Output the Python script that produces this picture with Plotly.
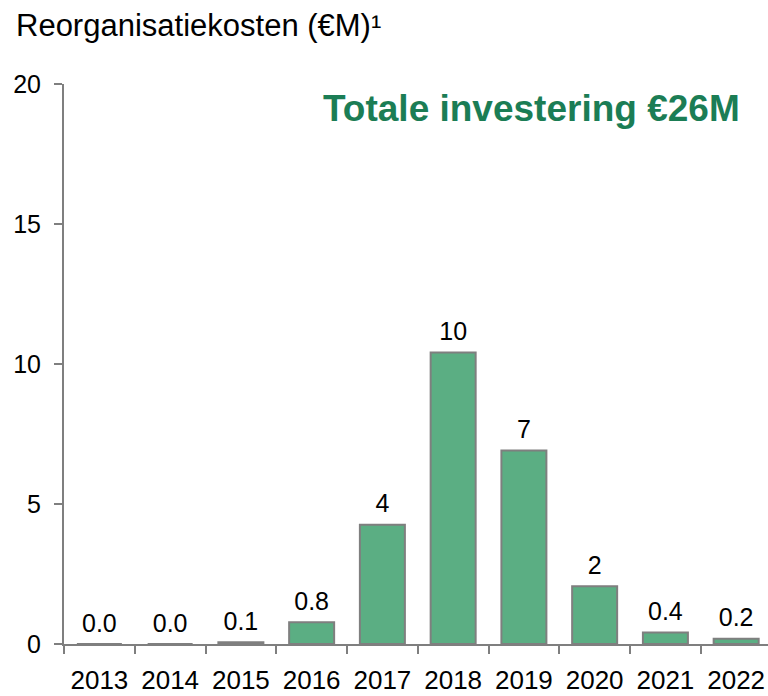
import plotly.graph_objects as go

# Reorganisation costs per year (EUR million)
years = ["2013", "2014", "2015", "2016", "2017", "2018", "2019", "2020", "2021", "2022"]
costs = [0.0, 0.0, 0.06, 0.78, 4.26, 10.41, 6.91, 2.06, 0.41, 0.19]
y_ticks = [0, 5, 10, 15, 20]

title_text = "Reorganisatiekosten (€M)¹"
total_text = "<b>Totale investering €26M</b>"

FONT = "Liberation Sans, Arial, sans-serif"
GRAY = "#7f7f7f"
BAR_GREEN = "#5bae83"
TEXT_GREEN = "#1b7d55"

W, H = 768, 696
L, R, T, B = 64, 0, 84, 52
PW, PH = W - L - R, H - T - B


def px_x(px):
    return (px - L) / PW


def px_y(py):
    return (H - B - py) / PH


def fmt(v):
    return f"{v:.1f}" if v < 1 else f"{v:.0f}"


fig = go.Figure()

fig.add_trace(
    go.Bar(
        x=years,
        y=costs,
        marker=dict(color=BAR_GREEN, line=dict(color=GRAY, width=2)),
        hoverinfo="skip",
    )
)

# value labels sitting just above each bar
fig.add_trace(
    go.Scatter(
        x=years,
        y=costs,
        mode="markers+text",
        text=[fmt(v) for v in costs],
        textposition="top center",
        marker=dict(size=8, opacity=0),
        textfont=dict(family=FONT, size=25, color="#000000"),
        cliponaxis=False,
        hoverinfo="skip",
    )
)

fig.add_annotation(
    x=px_x(14), y=px_y(26), xref="paper", yref="paper",
    xanchor="left", yanchor="middle",
    text=title_text, showarrow=False,
    font=dict(family=FONT, size=31, color="#000000"),
)

fig.add_annotation(
    x=px_x(742), y=px_y(109), xref="paper", yref="paper",
    xanchor="right", yanchor="middle",
    text=total_text, showarrow=False,
    font=dict(family=FONT, size=37, color=TEXT_GREEN),
)

fig.update_layout(
    width=W, height=H,
    margin=dict(l=L, r=R, t=T, b=B, pad=0, autoexpand=False),
    paper_bgcolor="white", plot_bgcolor="white",
    showlegend=False,
    bargap=0.364,
    font=dict(family=FONT, size=25, color="#000000"),
)

fig.update_xaxes(
    type="category",
    range=[-0.5, 9.45],
    automargin=False,
    showline=True, linecolor=GRAY, linewidth=2,
    ticks="outside", tickson="boundaries", ticklen=8, tickwidth=2, tickcolor=GRAY,
    ticklabelstandoff=12,
    showgrid=False, zeroline=False,
    tickfont=dict(family=FONT, size=26, color="#000000"),
)

fig.update_yaxes(
    range=[0, 20],
    tickvals=y_ticks,
    automargin=False,
    showline=True, linecolor=GRAY, linewidth=2,
    ticks="outside", ticklen=8, tickwidth=2, tickcolor=GRAY,
    ticklabelstandoff=8,
    showgrid=False, zeroline=False,
    tickfont=dict(family=FONT, size=25, color="#000000"),
)

fig.write_html("out.html")
